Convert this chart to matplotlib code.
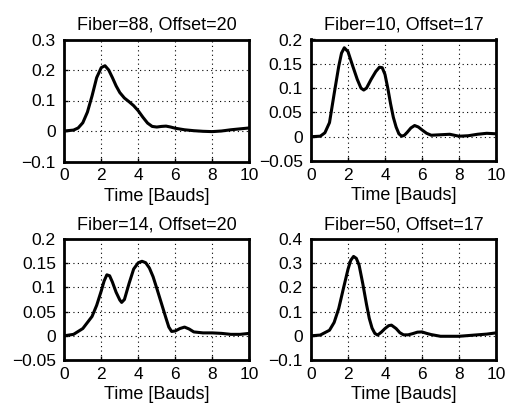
import matplotlib
matplotlib.use("Agg")
import matplotlib.pyplot as plt
from matplotlib.ticker import FixedLocator, FixedFormatter

plt.rcParams['font.family'] = ['Liberation Sans', 'DejaVu Sans']

titles = ["Fiber=88, Offset=20", "Fiber=10, Offset=17",
          "Fiber=14, Offset=20", "Fiber=50, Offset=17"]
xlabel = "Time [Bauds]"
xticks = [0, 2, 4, 6, 8, 10]

t1 = [0, 0.5, 0.75, 1, 1.25, 1.5, 1.75, 2, 2.2, 2.4, 2.6, 2.8, 3, 3.25, 3.5, 3.75, 4,
      4.25, 4.5, 4.75, 5, 5.25, 5.5, 5.75, 6, 6.5, 7, 7.5, 8, 8.5, 9, 9.5, 10]
y1 = [0, 0.003, 0.01, 0.027, 0.062, 0.115, 0.175, 0.208, 0.214, 0.2, 0.175, 0.148,
      0.126, 0.108, 0.096, 0.083, 0.066, 0.045, 0.026, 0.015, 0.013, 0.015, 0.016,
      0.013, 0.009, 0.004, 0.001, -0.001, -0.002, 0.0, 0.004, 0.007, 0.01]

t2 = [0, 0.5, 0.75, 1, 1.25, 1.5, 1.65, 1.8, 2, 2.25, 2.5, 2.7, 2.85, 3, 3.25, 3.5,
      3.7, 3.85, 4, 4.15, 4.3, 4.45, 4.6, 4.75, 4.9, 5.05, 5.2, 5.4, 5.6, 5.8, 6,
      6.25, 6.5, 7, 7.5, 8, 8.5, 9, 9.5, 10]
y2 = [0, 0.001, 0.008, 0.029, 0.088, 0.145, 0.172, 0.183, 0.175, 0.146, 0.118, 0.1,
      0.096, 0.1, 0.118, 0.134, 0.143, 0.142, 0.128, 0.1, 0.068, 0.04, 0.02, 0.006,
      0.001, 0.003, 0.009, 0.018, 0.023, 0.02, 0.014, 0.007, 0.003, 0.004, 0.005,
      0.001, 0.002, 0.005, 0.007, 0.006]

t3 = [0, 0.5, 1, 1.5, 1.75, 2, 2.15, 2.3, 2.45, 2.6, 2.8, 3, 3.1, 3.25, 3.5, 3.75, 4,
      4.2, 4.4, 4.6, 4.8, 5, 5.25, 5.5, 5.65, 5.8, 6, 6.25, 6.5, 6.75, 7, 7.5, 8,
      8.5, 9, 9.5, 10]
y3 = [0, 0.003, 0.015, 0.04, 0.063, 0.093, 0.113, 0.126, 0.124, 0.111, 0.09, 0.074,
      0.069, 0.075, 0.108, 0.138, 0.151, 0.154, 0.151, 0.14, 0.122, 0.098, 0.067,
      0.036, 0.018, 0.009, 0.01, 0.015, 0.018, 0.014, 0.008, 0.006, 0.006, 0.005,
      0.003, 0.003, 0.005]

t4 = [0, 0.5, 1, 1.25, 1.5, 1.75, 2, 2.15, 2.3, 2.45, 2.6, 2.8, 3, 3.15, 3.3, 3.45,
      3.6, 3.8, 4, 4.2, 4.35, 4.6, 4.8, 5, 5.25, 5.5, 5.75, 6, 6.25, 6.5, 7, 7.5, 8,
      8.5, 9, 9.5, 10]
y4 = [0, 0.003, 0.023, 0.055, 0.113, 0.195, 0.275, 0.312, 0.328, 0.32, 0.292, 0.215,
      0.13, 0.072, 0.032, 0.01, 0.003, 0.015, 0.03, 0.042, 0.044, 0.03, 0.013, 0.004,
      0.004, 0.009, 0.015, 0.016, 0.01, 0.005, -0.002, -0.002, -0.002, 0.001, 0.004,
      0.007, 0.012]

yticks1 = [-0.1, 0, 0.1, 0.2, 0.3]
ylabels1 = ["\u22120.1", "0", "0.1", "0.2", "0.3"]
yticks2 = [-0.05, 0, 0.05, 0.1, 0.15, 0.2]
ylabels2 = ["\u22120.05", "0", "0.05", "0.1", "0.15", "0.2"]
yticks4 = [-0.1, 0, 0.1, 0.2, 0.3, 0.4]
ylabels4 = ["\u22120.1", "0", "0.1", "0.2", "0.3", "0.4"]

W, H = 510, 404
fig = plt.figure(figsize=(W / 100, H / 100), dpi=100)

def rect(l, r, t, b):
    return [l / W, 1 - b / H, (r - l) / W, (b - t) / H]

positions = [rect(64.3, 249.3, 39.5, 161.5), rect(311, 496, 39.5, 161),
             rect(64.3, 249.3, 239, 360), rect(311, 496, 239, 360)]
series = [(t1, y1, yticks1, ylabels1), (t2, y2, yticks2, ylabels2),
          (t3, y3, yticks2, ylabels2), (t4, y4, yticks4, ylabels4)]

for pos, (t, y, yt, yl), title in zip(positions, series, titles):
    ax = fig.add_axes(pos)
    ax.plot(t, y, color='black', lw=2.2, solid_joinstyle='round')
    ax.set_xlim(0, 10)
    ax.set_ylim(yt[0], yt[-1])
    ax.xaxis.set_major_locator(FixedLocator(xticks))
    ax.xaxis.set_major_formatter(FixedFormatter([str(v) for v in xticks]))
    ax.yaxis.set_major_locator(FixedLocator(yt))
    ax.yaxis.set_major_formatter(FixedFormatter(yl))
    ax.grid(True, linestyle=(0, (1, 3)), color='black', lw=0.8)
    ax.tick_params(direction='in', length=3, width=1, labelsize=12.5)
    ax.tick_params(axis='x', pad=5)
    ax.tick_params(axis='y', pad=6)
    for s in ax.spines.values():
        s.set_linewidth(2.0)
    ax.set_title(title, fontsize=13, pad=7)
    ax.set_xlabel(xlabel, fontsize=13, labelpad=3)

fig.savefig("out.png", dpi=100)
